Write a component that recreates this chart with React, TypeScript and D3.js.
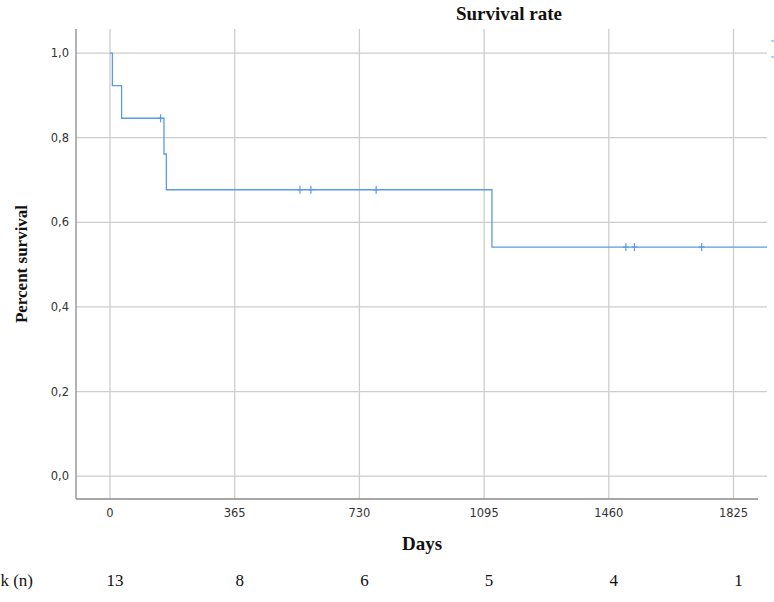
import React from "react";
import * as d3 from "d3";

// KM steps: [day, survival]
const stepDays = [0, 7, 34, 158, 165, 1118];
const stepSurv = [1.0, 0.923, 0.846, 0.7615, 0.677, 0.5415];
const censorDays = [148, 556, 588, 779, 1510, 1535, 1732];
const xTicks = [0, 365, 730, 1095, 1460, 1825];
const yTicks = [0, 0.2, 0.4, 0.6, 0.8, 1.0];
const riskDays = [0, 365, 730, 1095, 1460, 1825];
const riskCounts = [13, 8, 6, 5, 4, 1];
const maxDay = 1923;

const W = 774, H = 602;
const L = 76, R = 767, T = 29, B = 499;

export default function App() {
  const x = d3.scaleLinear().domain([-99.5, maxDay]).range([L, R]);
  const y = d3.scaleLinear().domain([-0.054, 1.057]).range([B, T]);

  const survAt = (t: number) => {
    let s = stepSurv[0];
    for (let i = 0; i < stepDays.length; i++) if (stepDays[i] <= t) s = stepSurv[i];
    return s;
  };
  const pts: [number, number][] = stepDays.map((d, i) => [d, stepSurv[i]]);
  pts.push([maxDay, stepSurv[stepSurv.length - 1]]);
  const line = d3.line<[number, number]>().x(d => x(d[0])).y(d => y(d[1])).curve(d3.curveStepAfter);

  const tickFont = "'DejaVu Sans', Verdana, sans-serif";
  const serif = "'Liberation Serif', 'Times New Roman', serif";
  const blue = "#5c9ae6";

  return (
    <svg width={W} height={H} style={{ position: "absolute", left: 0, top: 0, background: "#fff" }}>
      <rect x={0} y={0} width={W} height={H} fill="#fff" />
      {/* grid */}
      {yTicks.map(t => (
        <line key={"gy" + t} x1={L} x2={R} y1={y(t)} y2={y(t)} stroke="#cdcdcd" strokeWidth={1.3} />
      ))}
      {xTicks.map(t => (
        <line key={"gx" + t} x1={x(t)} x2={x(t)} y1={T} y2={B} stroke="#cdcdcd" strokeWidth={1.3} />
      ))}
      {/* axes */}
      <line x1={L} x2={L} y1={T} y2={B} stroke="#8a8a8a" strokeWidth={1.3} />
      <line x1={L} x2={758} y1={B} y2={B} stroke="#8a8a8a" strokeWidth={1.3} />
      {/* tick labels */}
      {yTicks.map(t => (
        <text key={"ty" + t} x={L - 7} y={y(t)} dy="0.35em" textAnchor="end" fontFamily={tickFont} fontSize={11.5} fill="#333">
          {d3.format(".1f")(t).replace(".", ",")}
        </text>
      ))}
      {xTicks.map(t => (
        <text key={"tx" + t} x={x(t)} y={B + 18} textAnchor="middle" fontFamily={tickFont} fontSize={11.5} fill="#333">
          {t}
        </text>
      ))}
      {/* curve */}
      <path d={line(pts) || ""} fill="none" stroke={blue} strokeWidth={1.3} />
      {censorDays.map(c => (
        <g key={"c" + c} stroke={blue} strokeWidth={1.2}>
          <line x1={x(c)} x2={x(c)} y1={y(survAt(c)) - 4} y2={y(survAt(c)) + 4} />
          <line x1={x(c) - 3} x2={x(c) + 3} y1={y(survAt(c))} y2={y(survAt(c))} />
        </g>
      ))}
      {/* clipped legend remnants at right edge */}
      <line x1={771} x2={774} y1={41} y2={41} stroke={blue} strokeWidth={1.5} opacity={0.6} />
      <line x1={771} x2={774} y1={57} y2={57} stroke={blue} strokeWidth={1.5} opacity={0.6} />
      {/* titles */}
      <text x={509} y={20} textAnchor="middle" fontFamily={serif} fontWeight="bold" fontSize={19} fill="#111">Survival rate</text>
      <text x={422} y={550} textAnchor="middle" fontFamily={serif} fontWeight="bold" fontSize={19} fill="#111">Days</text>
      <text transform={`translate(27, ${(T + B) / 2}) rotate(-90)`} textAnchor="middle" fontFamily={serif} fontWeight="bold" fontSize={17} fill="#111">Percent survival</text>
      {/* number at risk */}
      <text x={33} y={586} textAnchor="end" fontFamily={serif} fontSize={17} fill="#111">Number at risk (n)</text>
      {riskDays.map((d, i) => (
        <text key={"r" + d} x={x(d) + 5} y={586} textAnchor="middle" fontFamily={serif} fontSize={17} fill="#111">
          {riskCounts[i]}
        </text>
      ))}
    </svg>
  );
}
